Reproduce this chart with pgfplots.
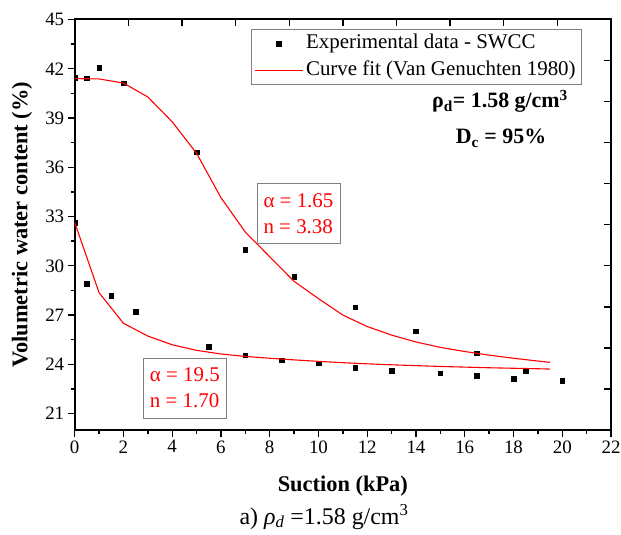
\documentclass[border=0pt]{standalone}
\usepackage{fontspec}
\setmainfont{Liberation Serif}
\usepackage{pgfplots}
\usepackage{pgfplotstable}
\pgfplotsset{compat=1.18}
\definecolor{boxgray}{RGB}{128,128,128}

\pgfplotstableread{
x y
0 41.45
0.5 41.43
1 42.06
2 41.13
5 36.93
7 30.99
9 29.33
11.5 27.49
14 26.02
16.5 24.67
}\expA

\pgfplotstableread{
x y
0 32.64
0.5 28.91
1.5 28.18
2.5 27.19
5.5 25.09
7 24.55
8.5 24.26
10 24.06
11.5 23.80
13 23.61
15 23.47
16.5 23.30
18 23.14
18.5 23.58
20 23.00
}\expB

\pgfplotstableread{
x y
0 41.40
1 41.38
2 41.13
3 40.28
4 38.77
5 36.85
6 34.15
7 32.05
8 30.55
9 29.05
10 28.00
11 27.00
12 26.30
13 25.78
14 25.36
15 25.03
16 24.78
17 24.56
18 24.37
19 24.20
19.5 24.12
}\fitA

\pgfplotstableread{
x y
0 32.64
1 28.36
2 26.50
3 25.72
4 25.19
5 24.85
6 24.63
7 24.48
8 24.37
9 24.27
10 24.18
11 24.10
12 24.03
13 23.97
14 23.92
15 23.87
16 23.83
17 23.79
18 23.76
19 23.73
19.5 23.71
}\fitB

\begin{document}
\begin{tikzpicture}
\useasboundingbox (0,0) rectangle (621bp,535bp);
\begin{axis}[
  at={(74.7bp,105bp)}, anchor=south west,
  scale only axis, width=536.3bp, height=410.5bp,
  xmin=0, xmax=22, ymin=20, ymax=45,
  xtick={0,2,...,22}, minor x tick num=1,
  ytick={21,24,...,45}, minor y tick num=1,
  tick pos=left, tick align=outside,
  major tick length=7bp, minor tick length=4bp,
  every tick/.style={black, line width=1.4bp},
  axis line style={line width=2bp},
  clip marker paths=true,
  /pgf/number format/assume math mode=true,
  ticklabel style={font=\fontsize{19}{19}\selectfont},
  xlabel={Suction (kPa)},
  ylabel={Volumetric water content (\%)},
  label style={font=\fontsize{22.5}{27}\selectfont\bfseries},
  xlabel style={at={(axis description cs:0.5,-0.1486)}, anchor=base},
  ylabel style={at={(axis description cs:-0.0983,0.5)}, anchor=center},
  legend image code/.code={\draw[mark repeat=2,mark phase=2,#1] plot coordinates {(0bp,0bp)(24bp,0bp)(48bp,0bp)};},
  legend style={at={(0.946,0.977)}, anchor=north east, draw=boxgray, line width=0.8bp,
    font=\fontsize{21}{24}\selectfont, inner xsep=3.5bp, inner ysep=1bp,
    nodes={text height=15bp, text depth=5bp, inner ysep=3.3bp, inner xsep=2.5bp}},
  legend cell align=left,
]
\addplot[only marks, mark=square*, mark size=2.3bp, black] table {\expA};
\addlegendentry{Experimental data - SWCC}
\addplot[red, line width=1.1bp, mark=none] table {\fitA};
\addlegendentry{Curve fit (Van Genuchten 1980)}
\addplot[only marks, mark=square*, mark size=2.3bp, black, forget plot] table {\expB};
\addplot[red, line width=1.1bp, mark=none, forget plot] table {\fitB};

\node[draw=boxgray, line width=0.8bp, text=red, align=left,
  font=\fontsize{21}{26}\selectfont, minimum width=83bp, minimum height=60bp]
  at (axis cs:9.18,33.17) {α = 1.65\\n = 3.38};
\node[draw=boxgray, line width=0.8bp, text=red, align=left,
  font=\fontsize{21}{26}\selectfont, minimum width=83bp, minimum height=60bp]
  at (axis cs:4.52,22.56) {α = 19.5\\n = 1.70};
\end{axis}
\begin{axis}[
  at={(74.7bp,105bp)}, anchor=south west,
  scale only axis, width=536.3bp, height=410.5bp,
  xmin=0, xmax=22, ymin=20, ymax=45,
  axis line style={draw=none},
  xtick={2.2,4.4,6.6,8.8,11,13.2,15.4,17.6,19.8},
  ytick={22.5,25,27.5,30,32.5,35,37.5,40,42.5},
  xticklabels={}, yticklabels={},
  tick pos=right, tick align=inside,
  major tick length=7bp,
  every tick/.style={black, line width=1.4bp},
]
\end{axis}
\node[anchor=base, font=\fontsize{22}{26}\selectfont\bfseries] at (500bp,427bp)
  {ρ\textsubscript{d}= 1.58 g/cm\textsuperscript{3}};
\node[anchor=base, font=\fontsize{22}{26}\selectfont\bfseries] at (501bp,391bp)
  {D\textsubscript{c} = 95\%};
\node[anchor=base, font=\fontsize{24}{28}\selectfont] at (324bp,11bp)
  {a) \textit{ρ}\textsubscript{\textit{d}} =1.58 g/cm\textsuperscript{3}};
\end{tikzpicture}
\end{document}
